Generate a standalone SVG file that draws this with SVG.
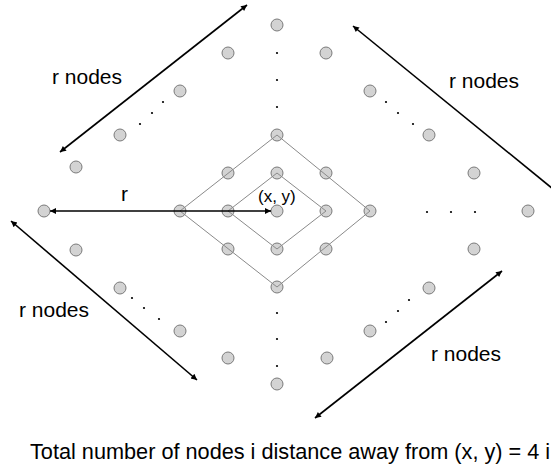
<svg xmlns="http://www.w3.org/2000/svg" width="551" height="471" viewBox="0 0 551 471">
<style>
.n{fill:#d3d3d3;stroke:#7a7a7a;stroke-width:1}
.d{fill:#000}
.g{fill:none;stroke:#8a8a8a;stroke-width:1}
.a{fill:none;stroke:#000;stroke-width:1.6}
.t{font-family:"Liberation Sans",Arial,sans-serif;font-size:21px;fill:#000}
</style>
<defs>
<marker id="ah" viewBox="0 0 10 10" refX="10" refY="5" markerWidth="8" markerHeight="6" markerUnits="userSpaceOnUse" orient="auto-start-reverse">
<path d="M0,0 L10,5 L0,10 z" fill="#000"/>
</marker>
</defs>
<rect width="551" height="471" fill="#fff"/>
<g id="nodes">
<g id="n-top"><circle class="n" cx="277" cy="25" r="6"/></g>
<g id="n-c1"><circle class="n" cx="277" cy="135" r="6"/></g>
<g id="n-c2"><circle class="n" cx="277" cy="173" r="6"/></g>
<g id="n-center"><circle class="n" cx="277" cy="211" r="6"/></g>
<g id="n-c4"><circle class="n" cx="277" cy="249" r="6"/></g>
<g id="n-c5"><circle class="n" cx="277" cy="287" r="6"/></g>
<g id="n-bottom"><circle class="n" cx="277" cy="384" r="6"/></g>
<g id="n-left"><circle class="n" cx="44" cy="211" r="6"/></g>
<g id="n-r1"><circle class="n" cx="180" cy="211" r="6"/></g>
<g id="n-r2"><circle class="n" cx="228" cy="211" r="6"/></g>
<g id="n-r4"><circle class="n" cx="326" cy="211" r="6"/></g>
<g id="n-r5"><circle class="n" cx="370" cy="211" r="6"/></g>
<g id="n-right"><circle class="n" cx="528" cy="211" r="6"/></g>
<g id="n-d1"><circle class="n" cx="228" cy="173" r="6"/></g>
<g id="n-d2"><circle class="n" cx="326" cy="173" r="6"/></g>
<g id="n-d3"><circle class="n" cx="228" cy="249" r="6"/></g>
<g id="n-d4"><circle class="n" cx="326" cy="249" r="6"/></g>
<g id="n-ul1"><circle class="n" cx="228" cy="53" r="6"/></g>
<g id="n-ul2"><circle class="n" cx="180" cy="91" r="6"/></g>
<g id="n-ul3"><circle class="n" cx="120" cy="135" r="6"/></g>
<g id="n-ul4"><circle class="n" cx="76" cy="167" r="6"/></g>
<g id="n-ur1"><circle class="n" cx="326" cy="53" r="6"/></g>
<g id="n-ur2"><circle class="n" cx="370" cy="91" r="6"/></g>
<g id="n-ur3"><circle class="n" cx="429" cy="135" r="6"/></g>
<g id="n-ur4"><circle class="n" cx="474" cy="173" r="6"/></g>
<g id="n-ll1"><circle class="n" cx="76" cy="250" r="6"/></g>
<g id="n-ll2"><circle class="n" cx="120" cy="288" r="6"/></g>
<g id="n-ll3"><circle class="n" cx="180" cy="331" r="6"/></g>
<g id="n-ll4"><circle class="n" cx="228" cy="358" r="6"/></g>
<g id="n-lr1"><circle class="n" cx="474" cy="249" r="6"/></g>
<g id="n-lr2"><circle class="n" cx="429" cy="288" r="6"/></g>
<g id="n-lr3"><circle class="n" cx="370" cy="331" r="6"/></g>
<g id="n-lr4"><circle class="n" cx="327" cy="358" r="6"/></g>
</g>
<g id="diamonds">
<polygon class="g" points="180,211 277,135 370,211 277,287"/>
<polygon class="g" points="228,211 277,173 326,211 277,249"/>
</g>
<g id="connectors">
<line class="a" x1="50" y1="211" x2="271" y2="211" stroke-width="2" marker-start="url(#ah)" marker-end="url(#ah)"/>
<line class="a" x1="60" y1="152" x2="247" y2="5" marker-start="url(#ah)" marker-end="url(#ah)"/>
<line class="a" x1="353" y1="26" x2="553" y2="189" marker-start="url(#ah)"/>
<line class="a" x1="11" y1="221" x2="197" y2="380" marker-start="url(#ah)" marker-end="url(#ah)"/>
<line class="a" x1="315" y1="418" x2="502" y2="271" marker-start="url(#ah)" marker-end="url(#ah)"/>
</g>
<g id="ellipses">
<circle class="d" cx="277" cy="53" r="1.1"/>
<circle class="d" cx="277" cy="80" r="1.1"/>
<circle class="d" cx="277" cy="107" r="1.1"/>
<circle class="d" cx="277" cy="313" r="1.1"/>
<circle class="d" cx="277" cy="339" r="1.1"/>
<circle class="d" cx="277" cy="366" r="1.1"/>
<circle class="d" cx="163" cy="102" r="1.1"/>
<circle class="d" cx="152" cy="113" r="1.1"/>
<circle class="d" cx="140" cy="124" r="1.1"/>
<circle class="d" cx="386" cy="102" r="1.1"/>
<circle class="d" cx="398" cy="113" r="1.1"/>
<circle class="d" cx="413" cy="124" r="1.1"/>
<circle class="d" cx="132" cy="298" r="1.1"/>
<circle class="d" cx="144" cy="308" r="1.1"/>
<circle class="d" cx="159" cy="319" r="1.1"/>
<circle class="d" cx="386" cy="322" r="1.1"/>
<circle class="d" cx="398" cy="311" r="1.1"/>
<circle class="d" cx="409" cy="300" r="1.1"/>
<circle class="d" cx="427" cy="212" r="1.1"/>
<circle class="d" cx="451" cy="212" r="1.1"/>
<circle class="d" cx="475" cy="212" r="1.1"/>
</g>
<g id="labels">
<text class="t" x="52" y="84">r nodes</text>
<text class="t" x="449" y="88">r nodes</text>
<text class="t" x="19" y="317">r nodes</text>
<text class="t" x="431" y="361">r nodes</text>
<text class="t" x="121" y="201">r</text>
<text class="t" x="258" y="202" style="font-size:17px">(x, y)</text>
<text class="t" x="30" y="459" style="font-size:21.7px">Total number of nodes i distance away from (x, y) = 4 i</text>
</g>
</svg>
